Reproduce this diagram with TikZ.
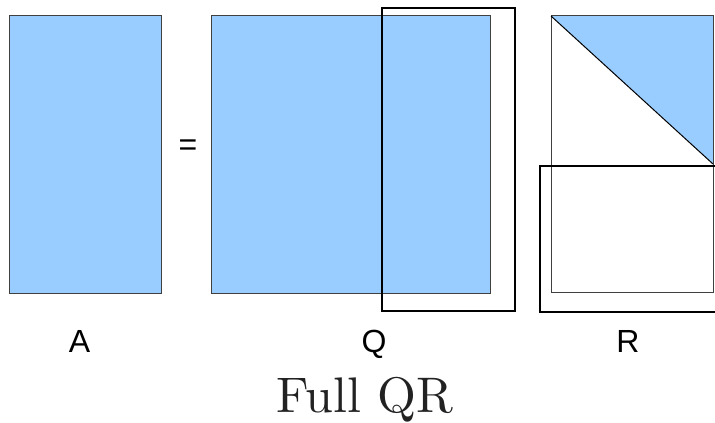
\documentclass[tikz,border=0pt]{standalone}
\usepackage{fontspec}
\newfontfamily\labelfont{Liberation Sans}
\newfontfamily\titlefont{lmroman10-regular}[Extension=.otf]
\usetikzlibrary{positioning}
\definecolor{matblue}{HTML}{99CCFF}
\definecolor{titlegray}{HTML}{222222}

\begin{document}
\begin{tikzpicture}[
        x=0.75pt, y=-0.75pt,
        mat/.style={fill=matblue, draw=black!75, line width=0.75pt},
        outline/.style={draw=black!75, line width=0.75pt},
        frame/.style={draw=black, line width=1.5pt},
        lbl/.style={font=\labelfont\fontsize{24}{28}\selectfont, anchor=base, inner sep=0pt},
        title/.style={font=\titlefont\fontsize{37.5}{44}\selectfont, text=titlegray, anchor=base, inner sep=0pt}
    ]
        \useasboundingbox (0,0) rectangle (715,423);

        % matrix A
        \draw[mat] (9,16) rectangle (161,294);
        \node[lbl] (eq) at (188,156) {=};

        % matrix Q and its frame
        \draw[mat] (211,16) rectangle (490,294);
        \draw[frame] (382,8) rectangle (515,311);

        % matrix R: upper triangle and frame
        \coordinate (rtl) at (551,16);
        \coordinate (rtr) at (713,16);
        \coordinate (rmid) at (713,164);
        \fill[matblue] (rtl) -- (rtr) -- (rmid) -- cycle;
        \draw[outline] (rtl) rectangle (713,293);
        \draw[black, line width=0.75pt] (rtl) -- (rmid);
        \draw[frame] (717,166) -- (540,166) -- (540,312) -- (717,312);

        % labels
        \node[lbl] (la) at (79.5,353) {A};
        \node[lbl] (lq) at (374,353) {Q};
        \node[lbl] (lr) at (628,353) {R};
        \node[title] (ttl) at (365,413) {Full QR};
    \end{tikzpicture}
\end{document}
